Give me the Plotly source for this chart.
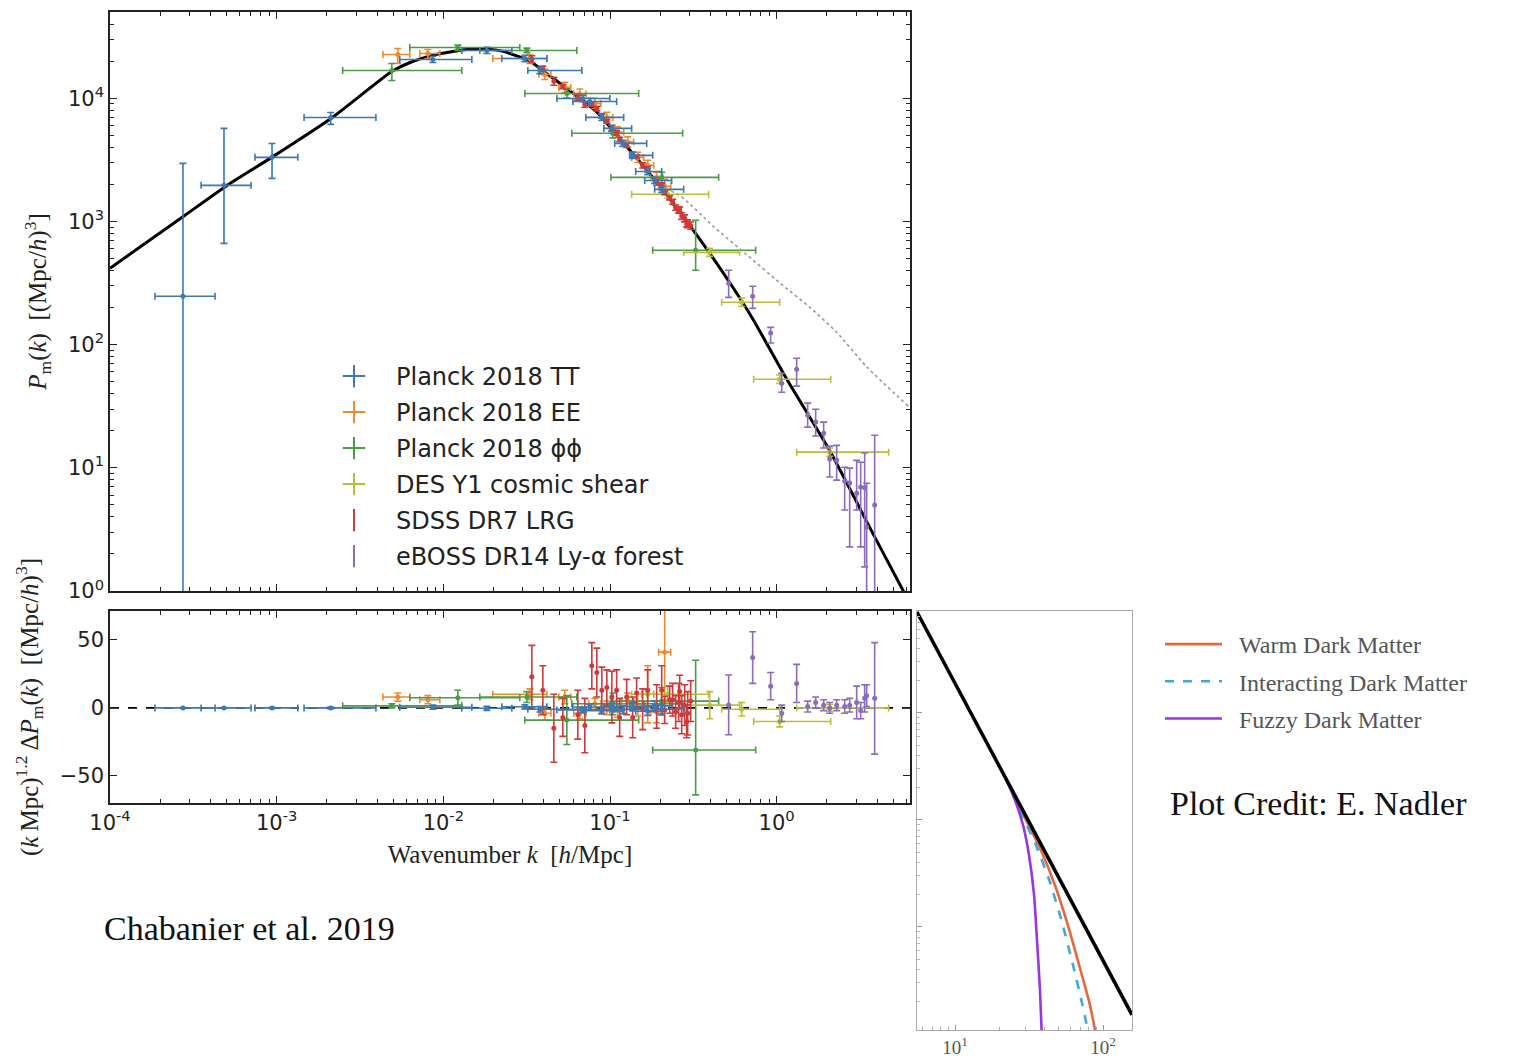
import plotly.graph_objects as go

# ---------------- theory curves (main panel) ----------------
theory_k = [1.0e-4, 2.818e-4, 5.012e-4, 9.333e-4, 2.138e-3, 4.898e-3, 6.310e-3, 8.710e-3, 0.01380,
            0.01820, 0.02291, 0.03311, 0.04169, 0.05495, 0.08318, 0.1202, 0.1585, 0.2089, 0.3236,
            0.5248, 0.7178, 1.148, 2.080, 3.767, 5.702, 6.310]
theory_P = [417, 1122, 1950, 3311, 6918, 16480, 19500, 22390, 24830, 25120, 23990, 19950, 15850,
            12020, 7762, 4365, 2818, 1778, 812.8, 316.2, 162.2, 52.48, 13.80, 2.951, 1.023, 0.776]

nonlin_k = [0.1995, 0.2630, 0.4169, 0.6607, 1.047, 1.585, 2.291, 3.467, 6.166]
nonlin_P = [1919, 1622, 912, 537, 316, 200, 126, 66.1, 31.6]

# ---------------- Planck 2018 TT ----------------
tt_k = [2.74e-4, 4.83e-4, 9.38e-4, 2.11e-3, 8.65e-3, 0.01824, 0.03083, 0.03793, 0.06871, 0.07568,
        0.08933, 0.1026, 0.1191, 0.1368, 0.1683, 0.1853, 0.2042]
tt_k_lo = [1.86e-4, 3.52e-4, 7.41e-4, 1.46e-3, 5.48e-3, 0.01291, 0.02244, 0.03214, 0.04797, 0.05984,
           0.07161, 0.09183, 0.1067, 0.1312, 0.1426, 0.1614, 0.1853]
tt_k_hi = [4.27e-4, 7.02e-4, 1.34e-3, 3.94e-3, 0.01483, 0.02576, 0.04178, 0.06776, 0.09977, 0.1096,
           0.1208, 0.1349, 0.1660, 0.1803, 0.2042, 0.2344, 0.2767]
tt_P = [247, 1963, 3311, 6980, 20650, 24430, 21030, 16800, 9960, 9420, 6990, 5690, 4300, 3440, 2546, 2150, 1821]
tt_P_lo = [0.3, 664, 2238, 6135, 19480, 23050, 19840, 15850, 9400, 8890, 6590, 5370, 4060, 3250, 2400, 2030, 1720]
tt_P_hi = [2960, 5690, 4295, 7670, 21890, 25900, 22290, 17810, 10560, 9990, 7410, 6030, 4560, 3650, 2700, 2280, 1930]
tt_res = [0.0, 0.0, 0.0, 0.0, 0.5, -0.3, 0.8, -1.0, -1.5, 0.6, -2.0, 1.0, -1.2, 0.8, -2.5, 1.5, -1.0]
tt_res_err = [0.3, 0.3, 0.4, 0.6, 1.5, 1.5, 1.5, 2.0, 2.0, 2.0, 2.5, 2.5, 3.0, 3.0, 3.0, 3.5, 3.5]

# ---------------- Planck 2018 EE ----------------
ee_k = [5.33e-3, 8.07e-3, 0.03304, 0.04064, 0.05358, 0.06592, 0.0811, 0.09572, 0.1112, 0.1276,
        0.1466, 0.1683, 0.1905, 0.2128]
ee_k_lo = [4.34e-3, 7.23e-3, 0.01982, 0.0374, 0.0493, 0.0606, 0.0746, 0.0881, 0.1023, 0.1174,
           0.1349, 0.1548, 0.1753, 0.1958]
ee_k_hi = [6.29e-3, 9.53e-3, 0.04178, 0.0442, 0.0582, 0.0717, 0.0882, 0.1040, 0.1209, 0.1387,
           0.1593, 0.1829, 0.2071, 0.2313]
ee_P = [22650, 23090, 21030, 15590, 12240, 10810, 9080, 6990, 5320, 4420, 3310, 2858, 2280, 1927]
ee_P_lo = [19150, 21030, 19150, 14200, 11130, 9830, 8250, 6350, 4840, 4020, 3010, 2600, 2070, 1700]
ee_P_hi = [25350, 24900, 22650, 17150, 13460, 11890, 9990, 7690, 5850, 4860, 3640, 3140, 2510, 2200]
ee_res = [8, 6, 10, -4, 8, -4, 3, 0, -2, 5, 2, 10, -3, 41]
ee_res_ep = [3, 3, 4, 5, 5, 4, 4, 5, 5, 6, 8, 21, 8, 45]
ee_res_em = [3, 3, 4, 5, 5, 4, 4, 5, 5, 6, 8, 21, 8, 35]

# ---------------- Planck 2018 phi-phi ----------------
pp_k = [4.91e-3, 0.01222, 0.0317, 0.05508, 0.1040, 0.2042, 0.3266]
pp_k_lo = [2.49e-3, 6.29e-3, 0.01656, 0.03083, 0.05902, 0.1012, 0.1803]
pp_k_hi = [0.01291, 0.02877, 0.06324, 0.1486, 0.2729, 0.4487, 0.7482]
pp_P = [16800, 25800, 24430, 10930, 5190, 2280, 583]
pp_P_lo = [13940, 24430, 23400, 10050, 4770, 2050, 401]
pp_P_hi = [19150, 27000, 25500, 11800, 5610, 2510, 1021]
pp_res = [1.5, 7.5, 8, -9, 3, 5, -31]
pp_res_ep = [1.5, 5.5, 4, 18, 8, 10, 66]
pp_res_em = [1.5, 5.5, 4, 18, 8, 10, 33]

# ---------------- DES Y1 cosmic shear ----------------
des_k = [0.2218, 0.3963, 0.6166, 1.042, 2.080]
des_k_lo = [0.1349, 0.2767, 0.4677, 0.7278, 1.318]
des_k_hi = [0.3908, 0.5998, 1.042, 2.109, 4.699]
des_P = [1660, 561, 221, 52.4, 13.4]
des_P_lo = [1540, 520, 204, 48.4, 12.4]
des_P_hi = [1790, 606, 239, 56.6, 14.5]
des_res = [10, 2, -1, -10, 0]
des_res_err = [6, 10, 5, 4, 2.5]

# ---------------- SDSS DR7 LRG ----------------
sdss_k = [0.03396, 0.03954, 0.04603, 0.05212, 0.06412, 0.07063, 0.0778, 0.08337, 0.08933, 0.09572,
          0.1026, 0.1096, 0.1143, 0.1259, 0.1368, 0.1445, 0.157, 0.1683, 0.1905, 0.2042, 0.2128,
          0.228, 0.2377, 0.2477, 0.2582, 0.2618, 0.2692, 0.2805, 0.2884, 0.2924, 0.3048]
sdss_P = [20800, 17350, 13760, 12440, 10150, 8920, 9000, 8250, 7190, 6490, 5720, 5225, 4630, 4150,
          3480, 3370, 2850, 2665, 2085, 1936, 1712, 1556, 1447, 1296, 1239, 1249, 1108, 1061, 956,
          959, 927]
sdss_P_err = [1330, 870, 1000, 480, 490, 480, 364, 355, 308, 217, 292, 213, 189, 156, 163, 112, 138,
              127, 117, 121, 64, 59, 67, 64, 71, 60, 68, 69, 53, 70, 62]
sdss_res = [23, 13, -15, -7, -5, -13, 31, 26, 13, 15, 8, 13, -7, 8, -7, 11, -1, 13, 1, 13, -1.5, 6,
            6, -3, 4, 12, -5, 2, -10, -4, 5]
sdss_res_err = [23, 18, 25, 14, 18, 20, 17, 18, 17, 13, 19, 15, 14, 13, 15, 11, 15, 15, 16, 18, 10,
                10, 12, 12, 14, 12, 14, 15, 12, 16, 15]

# ---------------- eBOSS DR14 Ly-alpha forest ----------------
eb_k = [0.5152, 0.7178, 0.9204, 1.072, 1.318, 1.535, 1.714, 1.914, 2.080, 2.291, 2.559, 2.742,
        3.020, 3.192, 3.373, 3.467, 3.873]
eb_P = [315, 247, 124, 48.6, 63.1, 26.8, 23.5, 19.1, 11.8, 11.5, 7.80, 7.52, 6.23, 6.97, 6.9, 3.3, 4.98]
eb_P_lo = [242, 197, 103, 41.1, 46.0, 21.4, 18.1, 14.5, 8.41, 7.95, 4.54, 2.28, 4.54, 2.28, 1.57, 0.85, 0.6]
eb_P_hi = [401, 298, 138, 58.6, 77.6, 33.5, 29.9, 23.5, 15.0, 15.2, 10.1, 9.95, 11.5, 11.1, 13.2, 7.5, 18.4]
eb_res = [2.2, 37, 16, -4, 18, 1, 4, 2, 0, 2, 1, 2, 4, -2, 7, 9, 7]
eb_res_err = [22, 19, 10, 6, 14, 4, 4, 4, 4, 4, 5, 5, 12, 6, 10, 8, 41]

# ---------------- inset: dark matter models ----------------
cdm_k = [5.53, 157.0]
cdm_P = [0.879, 1.51e-4]
wdm_k = [21.8, 29.7, 37.5, 47.3, 57.9, 69.8, 81.6, 91.0]
wdm_P = [0.02523, 0.01044, 5.47e-3, 2.47e-3, 1.04e-3, 4.14e-4, 1.87e-4, 8.79e-5]
idm_k = [21.8, 28.3, 35.2, 43.8, 52.8, 62.7, 72.1, 81.6]
idm_P = [0.02523, 0.01113, 5.84e-3, 2.63e-3, 1.11e-3, 4.41e-4, 1.95e-4, 8.79e-5]
fdm_k = [21.8, 25.4, 28.8, 31.6, 34.2, 35.8, 37.5, 38.7]
fdm_P = [0.02523, 0.01538, 8.97e-3, 4.71e-3, 1.99e-3, 7.56e-4, 2.58e-4, 8.79e-5]

# ---------------- tick labels ----------------
top_ytick_vals = [1, 10, 100, 1000, 10000]
top_ytick_text = ['10<sup>0</sup>', '10<sup>1</sup>', '10<sup>2</sup>', '10<sup>3</sup>', '10<sup>4</sup>']
xtick_vals = [1e-4, 1e-3, 1e-2, 1e-1, 1]
xtick_text = ['10<sup>-4</sup>', '10<sup>-3</sup>', '10<sup>-2</sup>', '10<sup>-1</sup>', '10<sup>0</sup>']
res_tick_vals = [-50, 0, 50]
res_tick_text = ['\u221250', '0', '50']
inset_xtick_vals = [10, 100]
inset_xtick_text = ['10<sup>1</sup>', '10<sup>2</sup>']

C_TT, C_EE, C_PP = '#3d78b1', '#f0892f', '#4b9c45'
C_DES, C_SDSS, C_EB = '#bcbd3a', '#d0393a', '#8a6cba'

W, H = 1523, 1060
fig = go.Figure()


def plus_minus(v, lo, hi):
    return [h - x for x, h in zip(v, hi)], [x - l for x, l in zip(v, lo)]


# theory lines
fig.add_trace(go.Scatter(x=nonlin_k, y=nonlin_P, mode='lines', xaxis='x', yaxis='y', showlegend=False,
                         line=dict(color='#9a9a9a', width=1.6, dash='dot', shape='spline', smoothing=0.6),
                         hoverinfo='skip'))
fig.add_trace(go.Scatter(x=theory_k, y=theory_P, mode='lines', xaxis='x', yaxis='y', showlegend=False,
                         line=dict(color='black', width=3, shape='spline', smoothing=0.5), hoverinfo='skip'))


def add_set(k, P, kp, km, Pp, Pm, res, rp, rm, color, has_x=True):
    ex = dict(type='data', symmetric=False, array=kp, arrayminus=km, color=color,
              thickness=1.6, width=3.5) if has_x else None
    fig.add_trace(go.Scatter(
        x=k, y=P, mode='markers', xaxis='x', yaxis='y', showlegend=False,
        marker=dict(color=color, size=5),
        error_x=ex,
        error_y=dict(type='data', symmetric=False, array=Pp, arrayminus=Pm, color=color,
                     thickness=1.6, width=3.5)))
    fig.add_trace(go.Scatter(
        x=k, y=res, mode='markers', xaxis='x2', yaxis='y2', showlegend=False,
        marker=dict(color=color, size=5),
        error_x=ex,
        error_y=dict(type='data', symmetric=False, array=rp, arrayminus=rm, color=color,
                     thickness=1.6, width=3.5)))


kp, km = plus_minus(ee_k, ee_k_lo, ee_k_hi)
Pp, Pm = plus_minus(ee_P, ee_P_lo, ee_P_hi)
add_set(ee_k, ee_P, kp, km, Pp, Pm, ee_res, ee_res_ep, ee_res_em, C_EE)

kp, km = plus_minus(pp_k, pp_k_lo, pp_k_hi)
Pp, Pm = plus_minus(pp_P, pp_P_lo, pp_P_hi)
add_set(pp_k, pp_P, kp, km, Pp, Pm, pp_res, pp_res_ep, pp_res_em, C_PP)

kp, km = plus_minus(des_k, des_k_lo, des_k_hi)
Pp, Pm = plus_minus(des_P, des_P_lo, des_P_hi)
add_set(des_k, des_P, kp, km, Pp, Pm, des_res, des_res_err, des_res_err, C_DES)

add_set(sdss_k, sdss_P, None, None, sdss_P_err, sdss_P_err, sdss_res, sdss_res_err, sdss_res_err,
        C_SDSS, has_x=False)

Pp, Pm = plus_minus(eb_P, eb_P_lo, eb_P_hi)
add_set(eb_k, eb_P, None, None, Pp, Pm, eb_res, eb_res_err, eb_res_err, C_EB, has_x=False)

kp, km = plus_minus(tt_k, tt_k_lo, tt_k_hi)
Pp, Pm = plus_minus(tt_P, tt_P_lo, tt_P_hi)
add_set(tt_k, tt_P, kp, km, Pp, Pm, tt_res, tt_res_err, tt_res_err, C_TT)

# legend-only entries for the data sets
legend_items = [('Planck 2018 TT', C_TT, 'cross-thin'), ('Planck 2018 EE', C_EE, 'cross-thin'),
                ('Planck 2018 \u03d5\u03d5', C_PP, 'cross-thin'), ('DES Y1 cosmic shear', C_DES, 'cross-thin'),
                ('SDSS DR7 LRG', C_SDSS, 'line-ns'), ('eBOSS DR14 Ly-\u03b1 forest', C_EB, 'line-ns')]
for name, col, sym in legend_items:
    fig.add_trace(go.Scatter(x=[None], y=[None], mode='markers', name=name, legend='legend',
                             legendgroup=name, xaxis='x', yaxis='y',
                             marker=dict(symbol=sym, size=16, color=col, line=dict(width=2, color=col))))

# inset
fig.add_trace(go.Scatter(x=wdm_k, y=wdm_P, mode='lines', xaxis='x3', yaxis='y3',
                         name='\u2002Warm Dark Matter', legend='legend2', legendgroup='w',
                         line=dict(color='#e5673c', width=2.6, shape='spline', smoothing=0.6)))
fig.add_trace(go.Scatter(x=idm_k, y=idm_P, mode='lines', xaxis='x3', yaxis='y3',
                         name='\u2002Interacting Dark Matter', legend='legend2', legendgroup='i',
                         line=dict(color='#45a8d4', width=2.6, dash='dash', shape='spline', smoothing=0.6)))
fig.add_trace(go.Scatter(x=fdm_k, y=fdm_P, mode='lines', xaxis='x3', yaxis='y3',
                         name='\u2002Fuzzy Dark Matter', legend='legend2', legendgroup='f',
                         line=dict(color='#9a35e0', width=2.6, shape='spline', smoothing=0.6)))
fig.add_trace(go.Scatter(x=cdm_k, y=cdm_P, mode='lines', xaxis='x3', yaxis='y3', showlegend=False,
                         line=dict(color='black', width=3.5)))

TICKFONT = dict(family='DejaVu Sans', size=21, color='#222')
SERIF = 'Liberation Serif'

minor_x = [m * 10.0 ** e for e in range(-4, 1) for m in range(2, 10)]
minor_y = [m * 10.0 ** e for e in range(0, 5) for m in range(2, 10)]
minor_x3 = [m * 10.0 ** e for e in range(0, 3) for m in range(2, 10)]
minor_y3 = [m * 10.0 ** e for e in range(-4, 0) for m in range(2, 10)]

frame = dict(showline=True, linecolor='#222', linewidth=1.5, mirror='allticks', ticks='inside',
             ticklen=7, tickwidth=1.2, tickcolor='#222', showgrid=False, zeroline=False,
             automargin=False)

xd = [110 / W, 910 / W]
fig.update_layout(
    width=W, height=H, margin=dict(l=0, r=0, t=0, b=0, autoexpand=False),
    paper_bgcolor='white', plot_bgcolor='white',
    xaxis=dict(domain=xd, anchor='y', type='log', range=[-4, 0.8], tickvals=xtick_vals,
               showticklabels=False,
               minor=dict(ticks='inside', ticklen=4, tickcolor='#222', tickvals=minor_x), **frame),
    yaxis=dict(domain=[469 / H, 1048 / H], anchor='x', type='log', range=[0, 4.7],
               tickvals=top_ytick_vals, ticktext=top_ytick_text, tickfont=TICKFONT,
               minor=dict(ticks='inside', ticklen=4, tickcolor='#222', tickvals=minor_y),
               title=dict(text='<i>P</i><sub>m</sub>(<i>k</i>)\u2002[(Mpc/<i>h</i>)<sup>3</sup>]',
                          font=dict(family=SERIF, size=25, color='#222'), standoff=14), **frame),
    xaxis2=dict(domain=xd, anchor='y2', type='log', range=[-4, 0.8], tickvals=xtick_vals,
                ticktext=xtick_text, tickfont=TICKFONT,
                minor=dict(ticks='inside', ticklen=4, tickcolor='#222', tickvals=minor_x),
                title=dict(text='Wavenumber <i>k</i>\u2002[<i>h</i>/Mpc]',
                           font=dict(family=SERIF, size=25, color='#222'), standoff=12), **frame),
    yaxis2=dict(domain=[257 / H, 449 / H], anchor='x2', range=[-70, 71.3], tickvals=res_tick_vals,
                ticktext=res_tick_text, tickfont=TICKFONT,
                title=dict(text='(<i>k</i>\u2009Mpc)<sup>1.2</sup>\u2009\u0394<i>P</i><sub>m</sub>(<i>k</i>)\u2002[(Mpc/<i>h</i>)<sup>3</sup>]',
                           font=dict(family=SERIF, size=25, color='#222'), standoff=14), **frame),
    xaxis3=dict(domain=[917 / W, 1132 / W], anchor='y3', type='log', range=[0.743, 2.196],
                tickvals=inset_xtick_vals, ticktext=inset_xtick_text,
                tickfont=dict(family=SERIF, size=19, color='#555'),
                showline=True, linecolor='#aaa', linewidth=1, mirror=True, ticks='inside', ticklen=5,
                tickcolor='#999', showgrid=False, zeroline=False, automargin=False,
                minor=dict(ticks='inside', ticklen=3, tickcolor='#aaa', tickvals=minor_x3)),
    yaxis3=dict(domain=[30 / H, 449 / H], anchor='x3', type='log', range=[-3.963, -0.047],
                tickvals=[1e-3, 1e-2, 1e-1], showticklabels=False,
                showline=True, linecolor='#aaa', linewidth=1, mirror=True, ticks='inside', ticklen=5,
                tickcolor='#999', showgrid=False, zeroline=False, automargin=False,
                minor=dict(ticks='inside', ticklen=3, tickcolor='#bbb', tickvals=minor_y3)),
    legend=dict(x=312 / W, y=1 - 354 / H, xanchor='left', yanchor='top', bgcolor='rgba(0,0,0,0)',
                font=dict(family='DejaVu Sans', size=24, color='#222'), tracegroupgap=1.8,
                itemwidth=74, itemclick=False),
    legend2=dict(x=1160 / W, y=1 - 622 / H, xanchor='left', yanchor='top', bgcolor='rgba(0,0,0,0)',
                 font=dict(family=SERIF, size=24, color='#555'), tracegroupgap=3, itemwidth=57),
    annotations=[
        dict(text='Chabanier et al. 2019', x=249 / W, y=1 - 928 / H, xref='paper', yref='paper',
             showarrow=False, xanchor='center', yanchor='middle',
             font=dict(family=SERIF, size=34, color='#111')),
        dict(text='Plot Credit: E. Nadler', x=1318 / W, y=1 - 803 / H, xref='paper', yref='paper',
             showarrow=False, xanchor='center', yanchor='middle',
             font=dict(family=SERIF, size=34, color='#111')),
    ],
    shapes=[dict(type='line', xref='x2 domain', yref='y2', x0=0, x1=1, y0=0, y1=0,
                 line=dict(color='black', width=1.8, dash='dash'), layer='below')],
)

fig.write_html('out.html')
